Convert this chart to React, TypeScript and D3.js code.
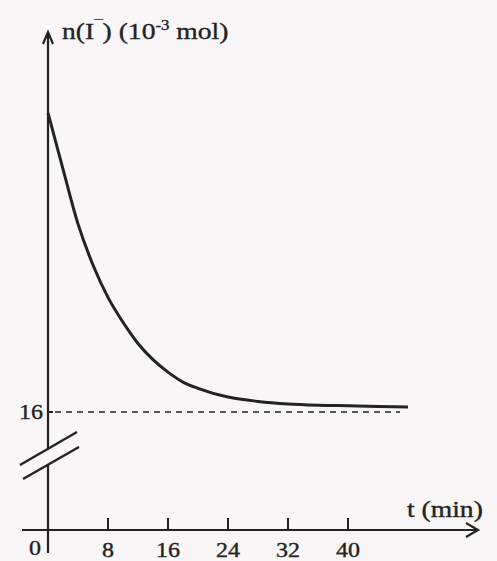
import * as d3 from "d3";

// readings from the scan: time in minutes, n(I-) in 10^-3 mol
const times = [0, 2, 4, 6, 8, 10, 12, 14, 16, 18, 20, 24, 28, 32, 36, 40, 44, 48];
const amounts = [40, 35.5, 31.1, 27.8, 25.2, 23.2, 21.5, 20.2, 19.2, 18.4, 17.9, 17.2, 16.85, 16.65, 16.55, 16.5, 16.45, 16.4];
const xTicks = [8, 16, 24, 32, 40];
const yMarked = 16;

const W = 497;
const H = 561;
const INK = "#232323";
const FONT = "'Liberation Serif', 'Times New Roman', serif";
// the scanned lettering is a bit wider than plain Times
const STRETCH = 1.2;

function Label({ x, y, anchor = "start", size, children }: any) {
  return (
    <text
      transform={`translate(${x},${y}) scale(${STRETCH},1)`}
      textAnchor={anchor}
      fontSize={size}
      fill={INK}
      stroke={INK}
      strokeWidth={0.35}
    >
      {children}
    </text>
  );
}

export default function App() {
  const x = d3.scaleLinear().domain([0, 48]).range([48, 408]);
  const y = d3.scaleLinear().domain([16, 40]).range([412, 113]);

  // the time axis sits at n = 0, which is off the (broken) value scale
  const axisY = 530;
  const x0 = x(0);

  const line = d3
    .line<number>()
    .x((_, i) => x(times[i]))
    .y((d) => y(d))
    .curve(d3.curveMonotoneX);

  return (
    <svg
      width={W}
      height={H}
      style={{ position: "absolute", left: 0, top: 0, background: "#f8f6f6" }}
      fontFamily={FONT}
    >
      {/* value axis, split by the break marks */}
      <line x1={x0} y1={34} x2={x0} y2={449} stroke={INK} strokeWidth={2.2} />
      <line x1={x0} y1={465} x2={x0} y2={553} stroke={INK} strokeWidth={2.2} />
      <path
        d={`M${x0 - 5},${44} L${x0},${32} L${x0 + 5},${44}`}
        fill="none"
        stroke={INK}
        strokeWidth={2.2}
      />
      <line x1={20} y1={465} x2={77} y2={432} stroke={INK} strokeWidth={2.4} />
      <line x1={23} y1={479} x2={79} y2={447} stroke={INK} strokeWidth={2.4} />

      {/* time axis */}
      <line x1={22} y1={axisY} x2={478} y2={axisY} stroke={INK} strokeWidth={2.2} />
      <path
        d={`M${466},${axisY - 7} L${478},${axisY} L${466},${axisY + 7}`}
        fill="none"
        stroke={INK}
        strokeWidth={2.2}
      />
      {xTicks.map((t) => (
        <g key={t}>
          <line x1={x(t)} y1={axisY} x2={x(t)} y2={axisY - 12} stroke={INK} strokeWidth={2} />
          <Label x={x(t)} y={557} anchor="middle" size={20}>
            {t}
          </Label>
        </g>
      ))}
      <Label x={x0 - 13} y={555} anchor="middle" size={20}>
        0
      </Label>

      {/* asymptote at 16 */}
      <line x1={x0} y1={y(yMarked)} x2={x0 + 5} y2={y(yMarked)} stroke={INK} strokeWidth={2} />
      <line
        x1={55}
        y1={y(yMarked)}
        x2={400}
        y2={y(yMarked)}
        stroke={INK}
        strokeWidth={1.3}
        strokeDasharray="6 5"
      />
      <Label x={43} y={y(yMarked) + 7} anchor="end" size={20}>
        {yMarked}
      </Label>

      {/* the decay curve */}
      <path d={line(amounts) ?? ""} fill="none" stroke={INK} strokeWidth={3} />

      {/* axis titles */}
      <Label x={62} y={39} size={23}>
        n(I
        <tspan dy={-9} fontSize={14}>
          ¯
        </tspan>
        <tspan dy={9}>) (10</tspan>
        <tspan dy={-9} fontSize={14}>
          -3
        </tspan>
        <tspan dy={9}> mol)</tspan>
      </Label>
      <Label x={407} y={517} size={23}>
        t (min)
      </Label>
    </svg>
  );
}
